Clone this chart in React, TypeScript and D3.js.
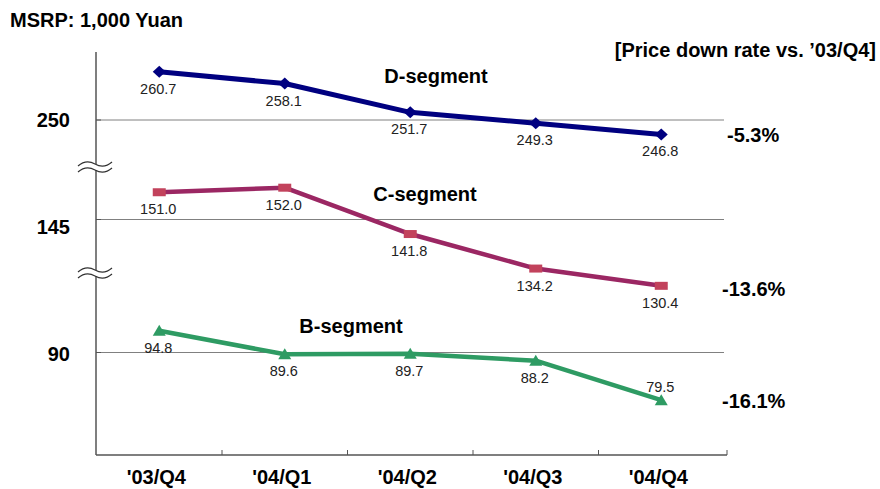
import React, { useEffect, useRef } from "react";
import * as d3 from "d3";

const quarters = ["'03/Q4", "'04/Q1", "'04/Q2", "'04/Q3", "'04/Q4"];
const dSegment = [260.7, 258.1, 251.7, 249.3, 246.8];
const cSegment = [151.0, 152.0, 141.8, 134.2, 130.4];
const bSegment = [94.8, 89.6, 89.7, 88.2, 79.5];
const gridValues = [250, 145, 90];
const downRates = ["-5.3%", "-13.6%", "-16.1%"];
const segmentNames = ["D-segment", "C-segment", "B-segment"];

const FONT = "'Liberation Sans', Arial, sans-serif";

export default function App() {
  const ref = useRef<SVGSVGElement>(null);

  useEffect(() => {
    const svg = d3.select(ref.current);
    svg.selectAll("*").remove();

    const axisX = 96, axisTop = 52, axisBottom = 455, right = 727;

    const x = d3.scaleBand().domain(quarters).range([96.5, 724]);
    const cx = (q: string) => (x(q) as number) + x.bandwidth() / 2;

    // one scale for each part of the broken axis
    const yD = d3.scaleLinear().domain([250, 262]).range([120, 66]);
    const yC = d3.scaleLinear().domain([145, 152]).range([219.5, 187.7]);
    const yB = d3.scaleLinear().domain([90, 95]).range([352.5, 329.8]);

    const g = svg.append("g").style("font-family", FONT);

    g.append("text").attr("x", 10).attr("y", 27)
      .style("font-size", "20px").style("font-weight", "bold").text("MSRP: 1,000 Yuan");
    g.append("text").attr("x", 876).attr("y", 57).attr("text-anchor", "end")
      .style("font-size", "20px").style("font-weight", "bold").text("[Price down rate vs. \u201903/Q4]");

    const series = [
      { data: dSegment, y: yD, line: "#000080", mark: "#000080", shape: "diamond", width: 5 },
      { data: cSegment, y: yC, line: "#9b2763", mark: "#c2425c", shape: "square", width: 4.5 },
      { data: bSegment, y: yB, line: "#2e9b63", mark: "#2e9b63", shape: "triangle", width: 4.5 },
    ];
    const labelDy = [7, 14, 8];

    // gridlines and y labels
    series.forEach((s, i) => {
      const yy = s.y(gridValues[i]);
      g.append("line").attr("x1", axisX).attr("x2", 724).attr("y1", yy).attr("y2", yy)
        .attr("stroke", "#808080").attr("stroke-width", 1);
      g.append("line").attr("x1", axisX).attr("x2", axisX + 5).attr("y1", yy).attr("y2", yy)
        .attr("stroke", "#555");
      g.append("text").attr("x", 70).attr("y", yy + labelDy[i]).attr("text-anchor", "end")
        .style("font-size", "20px").style("font-weight", "bold").text(gridValues[i]);
    });

    // axes
    g.append("line").attr("x1", axisX).attr("x2", axisX).attr("y1", axisTop).attr("y2", axisBottom)
      .attr("stroke", "#555").attr("stroke-width", 1.5);
    g.append("line").attr("x1", axisX).attr("x2", right).attr("y1", axisBottom).attr("y2", axisBottom)
      .attr("stroke", "#555").attr("stroke-width", 1.5);
    quarters.forEach((q, j) => {
      const tx = j === quarters.length - 1 ? right : (x(q) as number) + x.bandwidth();
      g.append("line").attr("x1", tx).attr("x2", tx).attr("y1", axisBottom - 5).attr("y2", axisBottom)
        .attr("stroke", "#555");
      g.append("text").attr("x", cx(q) - 3).attr("y", 484).attr("text-anchor", "middle")
        .style("font-size", "20px").style("font-weight", "bold").text(q);
    });

    // axis breaks
    [167, 273].forEach(by => {
      g.append("rect").attr("x", axisX - 2).attr("y", by - 3).attr("width", 4).attr("height", 6).attr("fill", "#fff");
      [-3, 3].forEach(off => {
        g.append("path")
          .attr("d", `M${axisX - 18},${by + off + 2} Q${axisX - 10},${by + off - 5} ${axisX - 1},${by + off} T${axisX + 16},${by + off - 2}`)
          .attr("fill", "none").attr("stroke", "#333").attr("stroke-width", 1.2);
      });
    });

    const markPath = (shape: string) => {
      if (shape === "diamond") return "M0,-6L6.5,0L0,6L-6.5,0Z";
      if (shape === "triangle") return "M0,-6L6.5,5L-6.5,5Z";
      return "M-6.5,-4H6.5V4H-6.5Z";
    };

    // lines, markers, labels
    series.forEach((s, i) => {
      const line = d3.line<number>().x((_, j) => cx(quarters[j])).y(d => s.y(d));
      g.append("path").attr("d", line(s.data)).attr("fill", "none")
        .attr("stroke", s.line).attr("stroke-width", s.width).attr("stroke-linejoin", "round");

      s.data.forEach((v, j) => {
        const px = cx(quarters[j]), py = s.y(v);
        g.append("path").attr("d", markPath(s.shape))
          .attr("transform", `translate(${px},${py})`).attr("fill", s.mark);
        const above = i === 2 && j === 4;
        g.append("text").attr("x", px - 1).attr("y", above ? py - 8 : py + 22).attr("text-anchor", "middle")
          .style("font-size", "14.5px").attr("fill", "#222").text(v.toFixed(1));
      });

      const last = s.y(s.data[s.data.length - 1]);
      g.append("text").attr("x", i === 0 ? 727 : 722).attr("y", last + (i === 1 ? 10 : 8))
        .style("font-size", "20px").style("font-weight", "bold").text(downRates[i]);
    });

    // segment names
    const namePos = [[436, 83], [425, 201], [351, 333]];
    segmentNames.forEach((n, i) => {
      g.append("text").attr("x", namePos[i][0]).attr("y", namePos[i][1]).attr("text-anchor", "middle")
        .style("font-size", "20px").style("font-weight", "bold").text(n);
    });
  }, []);

  return <svg ref={ref} width={880} height={489} style={{ position: "absolute", left: 0, top: 0, background: "#fff" }} />;
}
